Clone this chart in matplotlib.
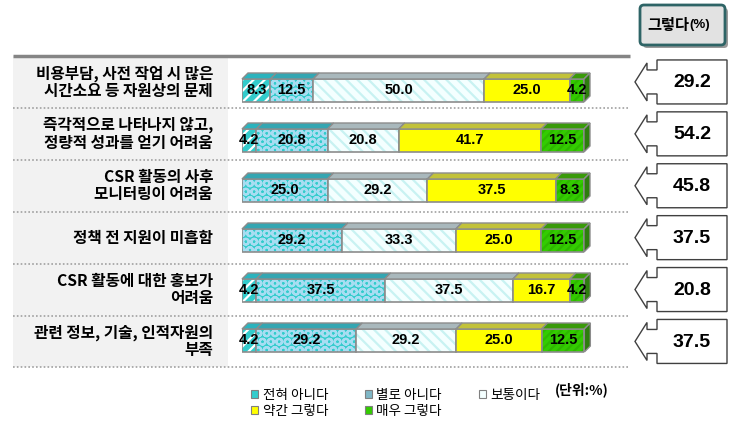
import matplotlib
matplotlib.use('Agg')
import matplotlib.pyplot as plt
from matplotlib.patches import Rectangle, Polygon, FancyBboxPatch, Patch

plt.rcParams['font.family'] = ['Noto Sans CJK KR', 'DejaVu Sans']
plt.rcParams['hatch.linewidth'] = 1.6

# data
categories = ['비용부담, 사전 작업 시 많은\n시간소요 등 자원상의 문제',
              '즉각적으로 나타나지 않고,\n정량적 성과를 얻기 어려움',
              'CSR 활동의 사후\n모니터링이 어려움',
              '정책 전 지원이 미흡함',
              'CSR 활동에 대한 홍보가\n어려움',
              '관련 정보, 기술, 인적자원의\n부족']
series_names = ['전혀 아니다', '별로 아니다', '보통이다', '약간 그렇다', '매우 그렇다']
not_at_all = [8.3, 4.2, 0, 0, 4.2, 4.2]
not_much = [12.5, 20.8, 25.0, 29.2, 37.5, 29.2]
neutral = [50.0, 20.8, 29.2, 33.3, 37.5, 29.2]
somewhat = [25.0, 41.7, 37.5, 25.0, 16.7, 25.0]
very = [4.2, 12.5, 8.3, 12.5, 4.2, 12.5]
agree = [29.2, 54.2, 45.8, 37.5, 20.8, 37.5]

series = [not_at_all, not_much, neutral, somewhat, very]
faces = ['#33CCCC', '#33CCCC', '#F4FFFF', '#FFFF00', '#33CC00']
hatch_cols = ['#FFFFFF', '#A8DDF2', '#C8F2F2', '#FFFF00', '#2EB800']
hatches = ['///', 'OO', '\\\\\\', '', '////']
tops = ['#2BB3BD', '#35A6B2', '#A9B8BC', '#C2C23A', '#3A9A0A']
edge = '#8C8C8C'
num_font = 'Liberation Sans'

fig = plt.figure(figsize=(7.31, 4.28), dpi=100)

# background layer in pixel units
bg = fig.add_axes([0, 0, 1, 1])
bg.set_xlim(0, 731)
bg.set_ylim(428, 0)
bg.axis('off')

row_top = 56
row_h = 51.9
n = len(categories)
bg.add_patch(Rectangle((13, row_top), 215, row_h * n, facecolor='#F2F2F2', edgecolor='none'))
bg.plot([13, 630], [row_top, row_top], color='#858585', lw=2.5, solid_capstyle='butt')
for k in range(1, n + 1):
    y = row_top + row_h * k
    bg.plot([13, 630], [y, y], color='#A0A0A0', lw=1.2, linestyle=(0, (1, 1.3)))

for i, lab in enumerate(categories):
    yc = row_top + row_h * (i + 0.5)
    bg.text(213, yc, lab, ha='right', va='center', fontsize=11.3, fontweight='bold',
            linespacing=1.1)
    # left-arrow callout with the "그렇다" value
    bl, br, tip, sl = 657, 727, 635, 647
    pts = [(br, yc - 22), (bl, yc - 22), (bl, yc - 12), (sl, yc - 12), (sl, yc - 19),
           (tip, yc), (sl, yc + 19), (sl, yc + 12), (bl, yc + 12), (bl, yc + 22), (br, yc + 22)]
    bg.add_patch(Polygon(pts, closed=True, facecolor='white', edgecolor='#404040', lw=1))
    bg.text((bl + br) / 2, yc + 1, f'{agree[i]:.1f}', ha='center', va='center',
            fontsize=14, fontweight='bold', family=num_font)

# header box
bg.add_patch(FancyBboxPatch((643, 8), 85, 40, boxstyle='round,pad=0,rounding_size=4',
                            facecolor='#9A9A9A', edgecolor='none'))
bg.add_patch(FancyBboxPatch((640, 5), 85, 40, boxstyle='round,pad=0,rounding_size=4',
                            facecolor='#E2E2E2', edgecolor='#2E6466', lw=2))
bg.text(668, 25, '그렇다', ha='center', va='center', fontsize=11, fontweight='bold')
bg.text(700, 25, '(%)', ha='center', va='center', fontsize=9.5, fontweight='bold',
        family=num_font)

# bar layer: x in percent, y in rows
ax = fig.add_axes([242 / 731, 1 - 365.5 / 428, 342 / 731, 300 / 428])
ax.set_xlim(0, 100)
ax.set_ylim(n - 0.5, -0.5)
ax.axis('off')

h = 0.46
dx = 1.75
dy = 0.12
rows = list(range(n))
lefts = [0.0] * n
for s, vals in enumerate(series):
    ax.barh(rows, vals, left=lefts, height=h, color=faces[s], edgecolor=hatch_cols[s],
            hatch=hatches[s], linewidth=0)
    ax.barh(rows, vals, left=lefts, height=h, fill=False, edgecolor=edge, linewidth=1.2)
    for i in rows:
        w = vals[i]
        if w <= 0:
            continue
        x0 = lefts[i]
        x1 = x0 + w
        yt = i - h / 2
        ax.fill([x0, x0 + dx, x1 + dx, x1], [yt, yt - dy, yt - dy, yt],
                facecolor=tops[s], edgecolor=edge, lw=1, clip_on=False)
        if s == len(series) - 1:
            yb = i + h / 2
            ax.fill([x1, x1 + dx, x1 + dx, x1], [yt, yt - dy, yb - dy, yb],
                    facecolor='#2E7D0E', edgecolor=edge, lw=1, clip_on=False)
        ax.text(x0 + w / 2, i, f'{w:.1f}', ha='center', va='center', fontsize=10.5,
                fontweight='bold', family=num_font, color='black')
    lefts = [lefts[i] + vals[i] for i in rows]

handles = [Patch(facecolor=faces[s] if s != 1 else '#7FB7C6', edgecolor='#808080', lw=0.8)
           for s in range(len(series))]
order = [0, 3, 1, 4, 2]
fig.legend([handles[k] for k in order], [series_names[k] for k in order], ncol=3,
           loc='upper left', bbox_to_anchor=(251 / 731, 1 - 388 / 428), frameon=False,
           prop={'size': 9.8, 'weight': 'medium'}, handlelength=0.55, handleheight=0.55,
           handletextpad=0.3, columnspacing=2.7, labelspacing=0.15, borderpad=0,
           borderaxespad=0)
bg.text(555, 390, '(단위:%)', ha='left', va='center', fontsize=10, fontweight='bold')

fig.savefig('out.png', dpi=100)
